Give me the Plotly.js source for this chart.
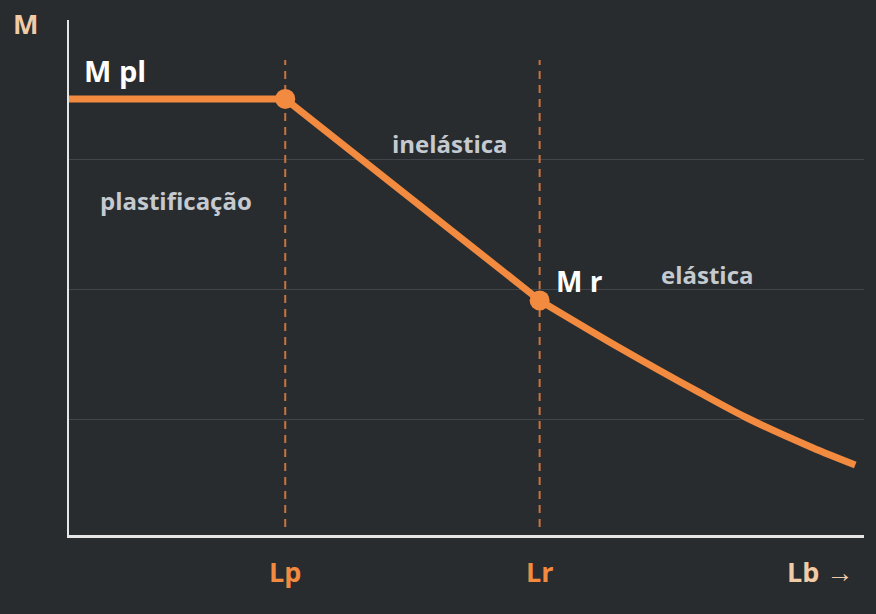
<!DOCTYPE html>
<html><head><meta charset="utf-8">
<script src="https://cdn.plot.ly/plotly-3.0.1.min.js"></script>
<style>html,body{margin:0;padding:0;background:#282c2f;}#chart{width:876px;height:614px;}</style>
</head><body><div id="chart"></div>
<script>
// Lb (unbraced length) positions and moment values
const Lp = 27.2, Lr = 59.2;
const Mpl = 3.47, Mr = 1.92;
const plateauX = [0, Lp];
const plateauY = [Mpl, Mpl];
const inelasticX = [Lp, Lr];
const inelasticY = [Mpl, Mr];
const elasticX = [Lr, 69.3, 79.4, 85.3, 93.6, 98.9];
const elasticY = [Mr, 1.554, 1.208, 1.015, 0.785, 0.654];
const guideY = [0.177, 3.77];
const gridVals = [1, 2, 3];

const orange = '#f28a40';
const traces = [
  {x:[Lp,Lp], y:guideY, mode:'lines', line:{color:'#c9733e', width:2, dash:'8px,6px'}, hoverinfo:'skip'},
  {x:[Lr,Lr], y:guideY, mode:'lines', line:{color:'#c9733e', width:2, dash:'8px,6px'}, hoverinfo:'skip'},
  {x:plateauX.concat(inelasticX.slice(1)), y:plateauY.concat(inelasticY.slice(1)), mode:'lines', line:{color:orange, width:7}},
  {x:elasticX, y:elasticY, mode:'lines', line:{color:orange, width:7, shape:'spline', smoothing:0.8}},
  {x:[Lp, Lr], y:[Mpl, Mr], mode:'markers', marker:{color:orange, size:20}}
];

const F = 'Open Sans, sans-serif';
function ann(text, x, y, color, size, xref, yref) {
  return {text:'<b>'+text+'</b>', x:x, y:y, xref:xref||'x', yref:yref||'y', showarrow:false,
    font:{family:F, size:size, color:color}, xanchor:'center', yanchor:'middle'};
}
const annotations = [
  ann('M', -0.0553, 0.994, '#f1cba6', 27, 'paper', 'paper'),
  ann('M pl', 5.8, 3.69, '#ffffff', 29),
  ann('plastificação', 13.5, 2.69, '#c5cad0', 24),
  ann('inelástica', 47.9, 3.13, '#c5cad0', 24),
  ann('M r', 64.2, 2.07, '#ffffff', 28),
  ann('elástica', 80.3, 2.12, '#c5cad0', 24),
  ann('Lp', Lp, -0.07, orange, 27, 'x', 'paper'),
  ann('Lr', Lr, -0.07, orange, 27, 'x', 'paper'),
  ann('Lb →', 94.5, -0.07, '#f1cba6', 27, 'x', 'paper')
];

const layout = {
  width:876, height:614,
  margin:{l:69, r:12, t:20, b:79},
  paper_bgcolor:'#282c2f', plot_bgcolor:'#282c2f',
  showlegend:false,
  xaxis:{range:[0,100], showgrid:false, zeroline:false, showticklabels:false, ticks:'',
    showline:true, linecolor:'#e6e6e6', linewidth:2.5, fixedrange:true},
  yaxis:{range:[0.115,4.077], tickvals:gridVals, showticklabels:false, ticks:'',
    showgrid:true, gridcolor:'#41464a', gridwidth:1, zeroline:false,
    showline:true, linecolor:'#e6e6e6', linewidth:2.5, fixedrange:true},
  annotations:annotations
};
Plotly.newPlot('chart', traces, layout, {displayModeBar:false, staticPlot:true});
</script></body></html>
